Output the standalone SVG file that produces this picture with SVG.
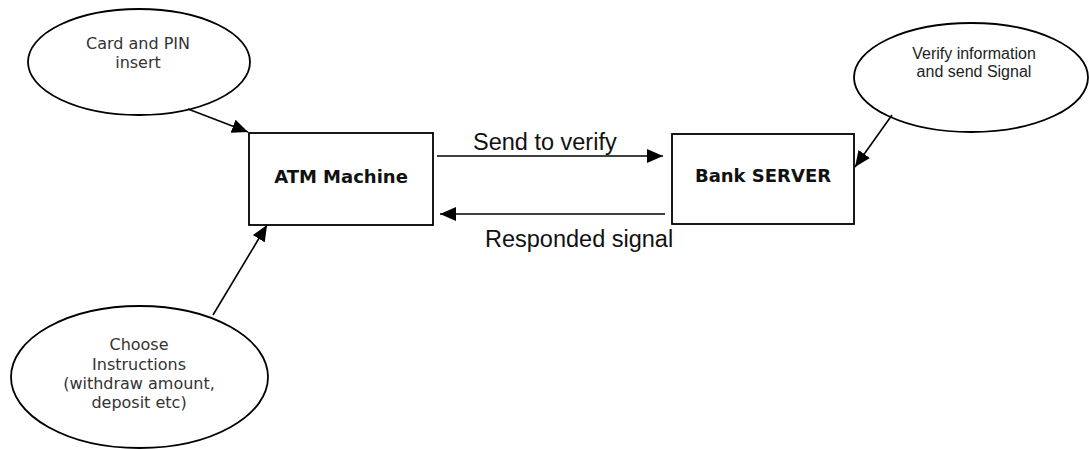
<svg xmlns="http://www.w3.org/2000/svg" width="1089" height="449" viewBox="0 0 1089 449">
<style>
.shape{fill:#fff;stroke:#000;stroke-width:1.8}
.etext{font-family:"DejaVu Sans",Verdana,sans-serif;font-size:16px;fill:#333;text-anchor:middle}
.rtext{font-family:"Liberation Sans",Arial,sans-serif;font-size:16px;fill:#222;text-anchor:middle}
.btext{font-family:"DejaVu Sans",Verdana,sans-serif;font-size:18px;font-weight:bold;fill:#111;text-anchor:middle}
.ltext{font-family:"Liberation Sans",Arial,sans-serif;font-size:23.5px;fill:#111}
.conn{fill:none;stroke:#000;stroke-width:1.6}
</style>
<defs>
<marker id="ah" markerUnits="userSpaceOnUse" markerWidth="17" markerHeight="14" refX="16" refY="7" orient="auto">
<path d="M0,0 L16,7 L0,14 Z" fill="#000"/>
</marker>
</defs>
<rect width="1089" height="449" fill="#fff"/>
<g id="card-pin">
<ellipse class="shape" cx="139" cy="62" rx="111" ry="53"/>
<text class="etext" x="138" y="49">Card and PIN</text>
<text class="etext" x="138" y="68">insert</text>
</g>
<g id="verify-info">
<ellipse class="shape" cx="971" cy="77.5" rx="117" ry="54.5"/>
<text class="rtext" x="974" y="59">Verify information</text>
<text class="rtext" x="974" y="77">and send Signal</text>
</g>
<g id="choose-instructions">
<ellipse class="shape" cx="139.5" cy="377" rx="128.5" ry="71"/>
<text class="etext" x="139" y="350">Choose</text>
<text class="etext" x="139" y="370">Instructions</text>
<text class="etext" x="139" y="389">(withdraw amount,</text>
<text class="etext" x="139" y="408">deposit etc)</text>
</g>
<g id="atm-machine">
<rect class="shape" x="249" y="133" width="184" height="92"/>
<text class="btext" x="341" y="183">ATM Machine</text>
</g>
<g id="bank-server">
<rect class="shape" x="672" y="134" width="182" height="90"/>
<text class="btext" x="763" y="182">Bank SERVER</text>
</g>
<g id="connectors">
<line class="conn" x1="188" y1="109" x2="248" y2="132" marker-end="url(#ah)"/>
<line class="conn" x1="213" y1="315" x2="267" y2="225" marker-end="url(#ah)"/>
<line class="conn" x1="892" y1="115" x2="855" y2="167" marker-end="url(#ah)"/>
<line class="conn" x1="437" y1="156" x2="663" y2="156" marker-end="url(#ah)"/>
<line class="conn" x1="665" y1="214" x2="440" y2="214" marker-end="url(#ah)"/>
<text class="ltext" x="473" y="150">Send to verify</text>
<text class="ltext" x="485" y="247">Responded signal</text>
</g>
</svg>
